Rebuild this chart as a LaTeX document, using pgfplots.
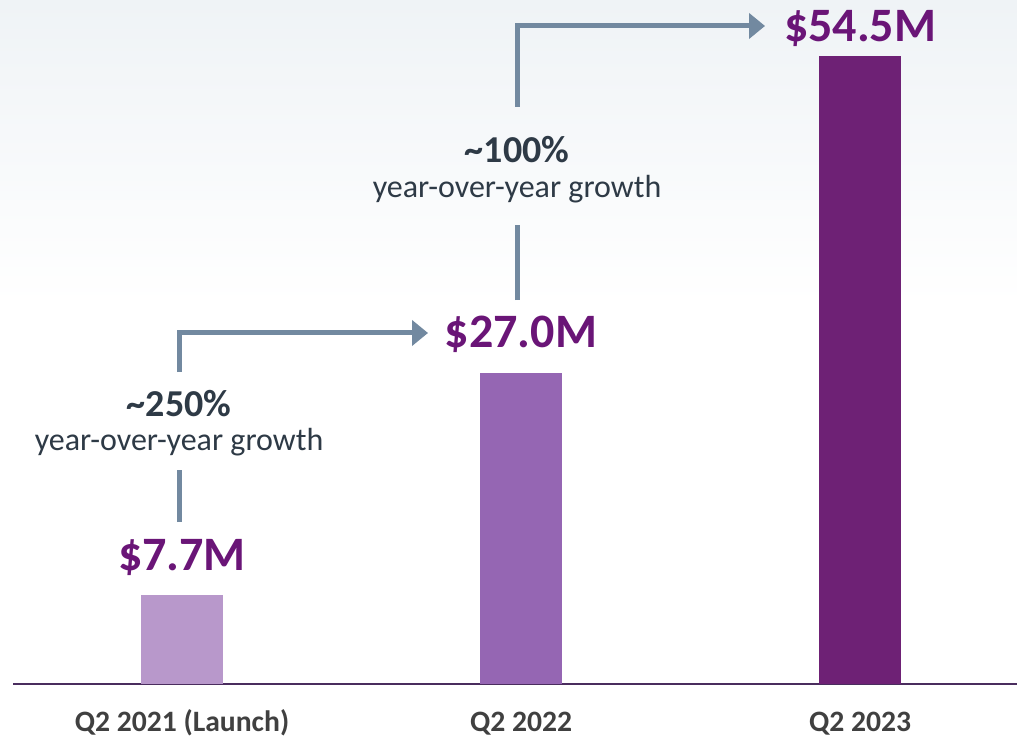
\documentclass[border=0pt]{standalone}
\usepackage{pgfplots}
\pgfplotsset{compat=1.18}
\usepackage{fontspec}
\setmainfont{Carlito}
\usetikzlibrary{arrows.meta}
\definecolor{barA}{RGB}{184,152,203}
\definecolor{barB}{RGB}{149,102,179}
\definecolor{barC}{RGB}{110,33,117}
\definecolor{valpurple}{RGB}{106,21,119}
\definecolor{arrowc}{RGB}{114,137,160}
\definecolor{darktxt}{RGB}{46,58,70}
\definecolor{ticktxt}{RGB}{64,64,64}
\definecolor{axisline}{RGB}{74,45,94}
\definecolor{bgtop}{RGB}{239,243,246}
\begin{document}
\begin{tikzpicture}
\useasboundingbox (-6.5pt,-26pt) rectangle (502pt,342pt);
\fill[white] (-6.5pt,-26pt) rectangle (502pt,342pt);
\shade[top color=bgtop, bottom color=white] (-6.5pt,190pt) rectangle (502pt,342pt);
\begin{axis}[
  at={(0,0)}, anchor=south west,
  scale only axis,
  width=502pt, height=342pt,
  xmin=-0.4985, xmax=2.463,
  ymin=0, ymax=59.375,
  axis y line=none,
  axis x line*=bottom,
  x axis line style={draw=axisline, line width=1pt, -},
  xtick={0,1,2},
  xticklabels={Q2 2021 (Launch), Q2 2022, Q2 2023},
  major tick length=0pt,
  xticklabel style={font=\fontsize{14.8pt}{17pt}\selectfont\bfseries, text=ticktxt, anchor=base, yshift=-23.5pt, inner sep=0pt},
  ybar, bar width=41pt, bar shift=0pt,
  clip=false,
]
\addplot[fill=barA, draw=none] coordinates {(0,7.7)};
\addplot[fill=barB, draw=none] coordinates {(1,27.0)};
\addplot[fill=barC, draw=none] coordinates {(2,54.5)};

% value labels
\node[anchor=base, text=valpurple, font=\fontsize{24pt}{27pt}\selectfont\bfseries, inner sep=0pt] at (axis cs:0,9.81) {\$7.7M};
\node[anchor=base, text=valpurple, font=\fontsize{24pt}{27pt}\selectfont\bfseries, inner sep=0pt] at (axis cs:1,29.17) {\$27.0M};
\node[anchor=base, text=valpurple, font=\fontsize{24pt}{27pt}\selectfont\bfseries, inner sep=0pt] at (axis cs:2,55.73) {\$54.5M};

% growth annotations
\node[anchor=base, text=darktxt, font=\fontsize{19pt}{22pt}\selectfont\bfseries, inner sep=0pt] at (axis cs:-0.0088,23.18) {\textasciitilde250\%};
\node[anchor=base, text=darktxt, font=\fontsize{16pt}{19pt}\selectfont, inner sep=0pt] at (axis cs:-0.0088,20.31) {year-over-year growth};
\node[anchor=base, text=darktxt, font=\fontsize{19pt}{22pt}\selectfont\bfseries, inner sep=0pt] at (axis cs:0.9882,45.23) {\textasciitilde100\%};
\node[anchor=base, text=darktxt, font=\fontsize{16pt}{19pt}\selectfont, inner sep=0pt] at (axis cs:0.9882,42.27) {year-over-year growth};

% arrows
\draw[arrowc, line width=2.5pt] (axis cs:-0.0088,14.06) -- (axis cs:-0.0088,18.58);
\draw[arrowc, line width=2.5pt, line join=miter, -{Triangle[width=12.5pt,length=8pt]}] (axis cs:-0.0088,27.08) -- (axis cs:-0.0088,30.47) -- (axis cs:0.7257,30.47);
\draw[arrowc, line width=2.5pt] (axis cs:0.9882,33.33) -- (axis cs:0.9882,39.84);
\draw[arrowc, line width=2.5pt, line join=miter, -{Triangle[width=12.5pt,length=8pt]}] (axis cs:0.9882,50.09) -- (axis cs:0.9882,57.12) -- (axis cs:1.7198,57.12);
\end{axis}
\end{tikzpicture}
\end{document}
